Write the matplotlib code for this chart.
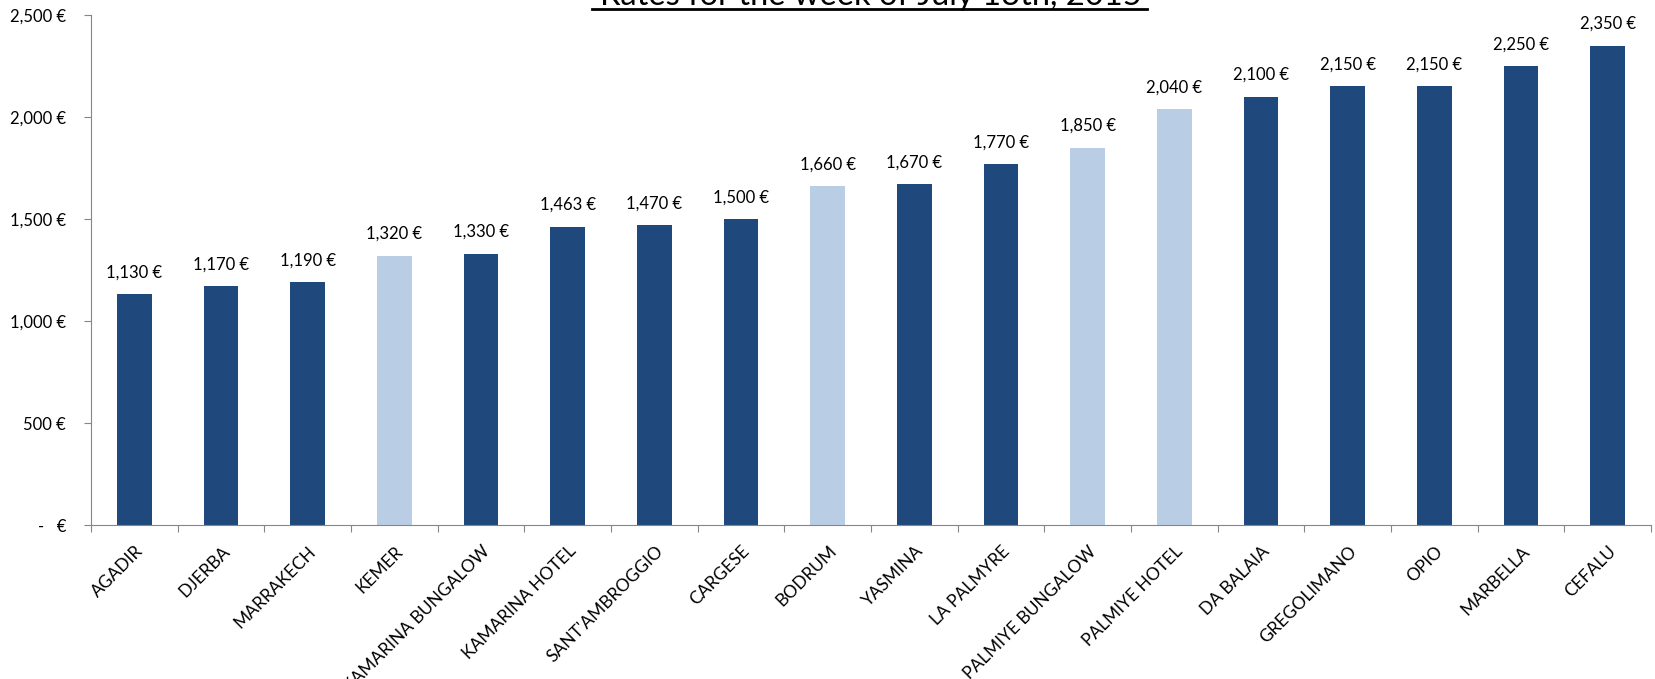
import numpy as np
import matplotlib.pyplot as plt
from matplotlib.transforms import ScaledTranslation
from matplotlib.lines import Line2D

plt.rcParams['font.family'] = ['Lato', 'DejaVu Sans']

# rates per destination, week of July 13th 2015
places = ["AGADIR", "DJERBA", "MARRAKECH", "KEMER", "KAMARINA BUNGALOW",
          "KAMARINA HOTEL", "SANT'AMBROGGIO", "CARGESE", "BODRUM", "YASMINA",
          "LA PALMYRE", "PALMIYE BUNGALOW", "PALMIYE HOTEL", "DA BALAIA",
          "GREGOLIMANO", "OPIO", "MARBELLA", "CEFALU"]
rates = [1130, 1170, 1190, 1320, 1330, 1463, 1470, 1500, 1660, 1670,
         1770, 1850, 2040, 2100, 2150, 2150, 2250, 2350]
highlight = ["KEMER", "BODRUM", "PALMIYE BUNGALOW", "PALMIYE HOTEL"]

dark = "#1F497D"
light = "#B9CDE5"
colors = [light if p in highlight else dark for p in places]

fig = plt.figure(figsize=(16.55, 6.79), dpi=100)
ax = fig.add_axes([0.055, 0.2268, 0.9426, 0.7511])

x = np.arange(len(places))
bars = ax.bar(x, rates, width=0.40, color=colors)

for xi, r in zip(x, rates):
    ax.annotate(f"{r:,} €", (xi, r), xytext=(0, 12), textcoords="offset points",
                ha="center", va="baseline", fontsize=12)

ax.set_xlim(-0.5, len(places) - 0.5)
ax.set_ylim(0, 2500)

yt = [0, 500, 1000, 1500, 2000, 2500]
ax.set_yticks(yt)
ax.set_yticklabels(["-   €"] + [f"{v:,} €" for v in yt[1:]], fontsize=12)

# category boundary ticks (Excel style) and labels at centers
ax.set_xticks(np.arange(len(places) + 1) - 0.5)
ax.set_xticklabels([])
ax.set_xticks(x, minor=True)
ax.set_xticklabels(places, minor=True, rotation=45, ha="right",
                   rotation_mode="anchor", va="center", fontsize=12.5)
ax.tick_params(axis="x", which="minor", length=0, pad=17)
ax.tick_params(axis="x", which="major", length=5, color="#868686")
ax.tick_params(axis="y", length=5, color="#868686", pad=13)
shift = ScaledTranslation(6 / 100, 0, fig.dpi_scale_trans)
for lab in ax.get_xticklabels(minor=True):
    lab.set_transform(lab.get_transform() + shift)

for s in ["top", "right"]:
    ax.spines[s].set_visible(False)
ax.spines["left"].set_color("#868686")
ax.spines["bottom"].set_color("#868686")

# title sits mostly above the image edge, underlined
tx = (91 + 1651) / 2 / 1655
fig.text(tx, 1 - 5 / 679, "Rates for the week of July 13th, 2015",
         ha="center", va="baseline", fontsize=23.5)
fig.add_artist(Line2D([592 / 1655, 1147 / 1655], [1 - 8.5 / 679] * 2,
                      transform=fig.transFigure, color="black", lw=2))

plt.savefig("out.png", dpi=100)
